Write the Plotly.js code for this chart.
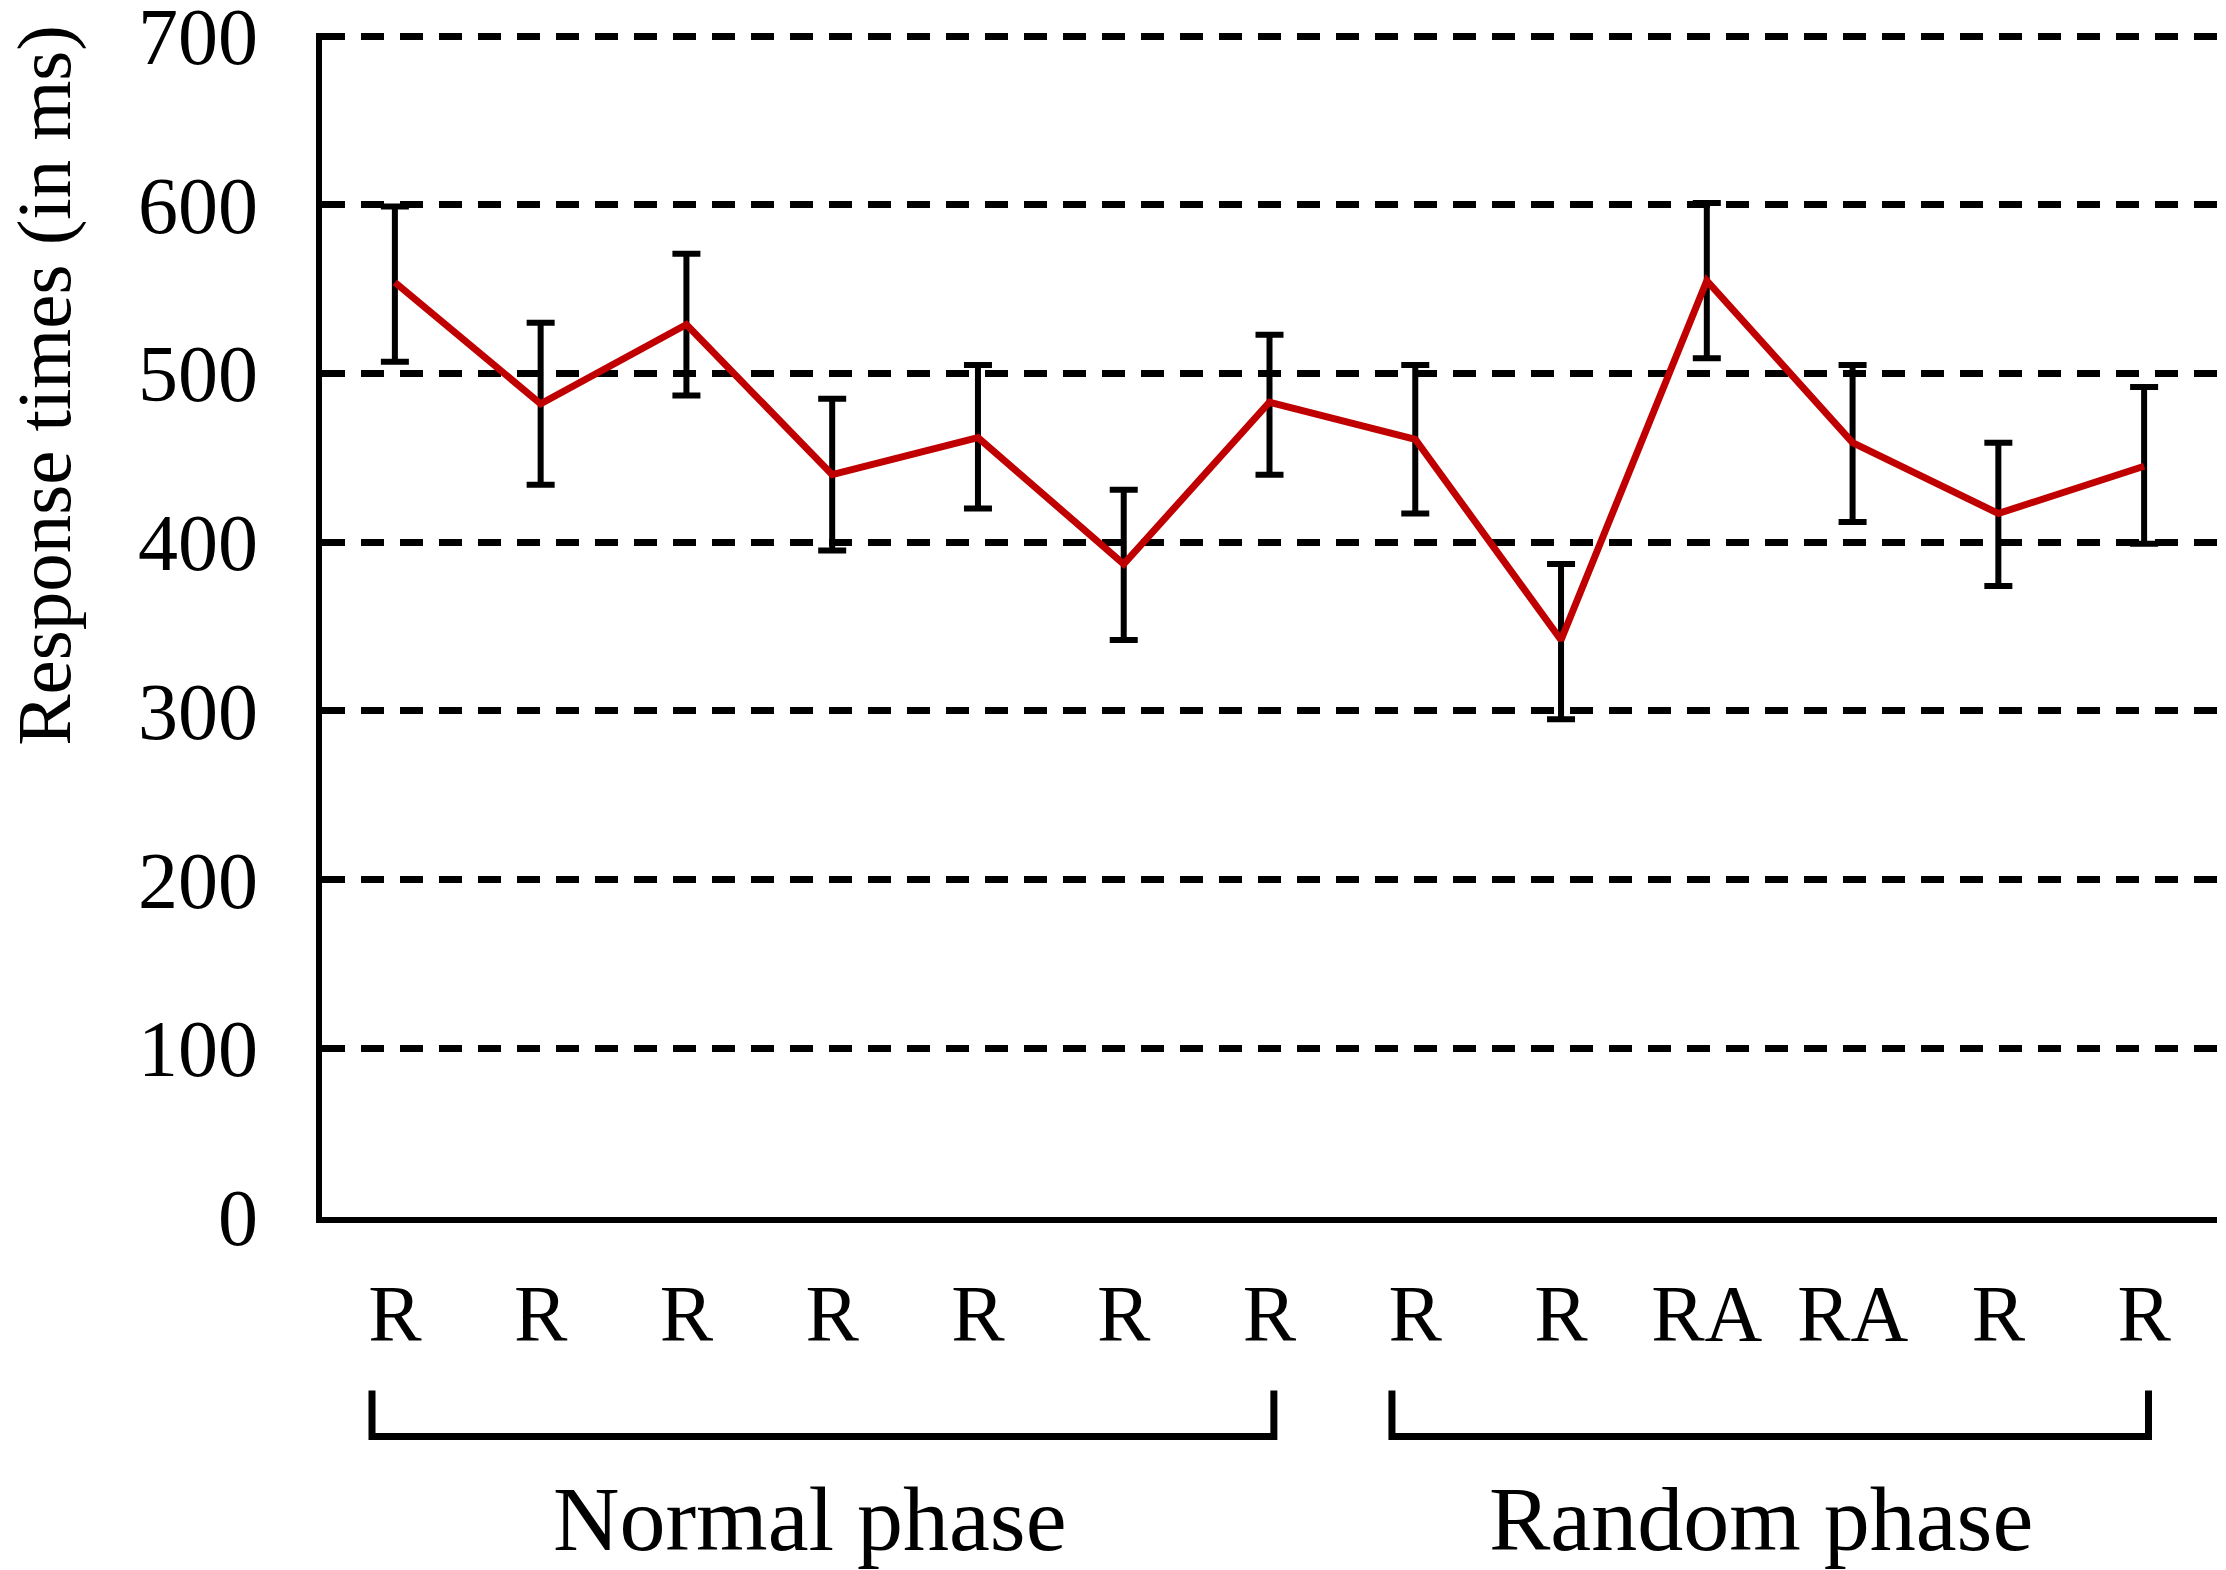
<!DOCTYPE html>
<html>
<head>
<meta charset="utf-8">
<script src="https://cdn.plot.ly/plotly-3.0.1.min.js"></script>
<style>html,body{margin:0;padding:0;background:#fff;}</style>
</head>
<body>
<div id="chart" style="width:2226px;height:1570px;"></div>
<script>
// ---- data ----
const trialLabels = ['R','R','R','R','R','R','R','R','R','RA','RA','R','R'];
const meanRT = [554, 482, 529, 440, 462, 387, 483, 461, 342, 555, 459, 417, 445];
const errUp = [45, 48, 42, 45, 43, 44, 40, 44, 45, 46, 46, 42, 47];
const errDown = [47, 48, 42, 45, 42, 45, 43, 44, 47, 46, 47, 43, 46];
const yTicks = [0, 100, 200, 300, 400, 500, 600, 700];
const phaseNames = ['Normal phase', 'Random phase'];
const yTitle = 'Response times (in ms)';

const xIdx = trialLabels.map((_, i) => i);
const serif = 'Liberation Serif, Times New Roman, serif';

const trace = {
  type: 'scatter',
  mode: 'lines',
  x: xIdx,
  y: meanRT,
  line: {color: '#c00000', width: 7},
  error_y: {
    type: 'data',
    symmetric: false,
    array: errUp,
    arrayminus: errDown,
    color: '#000',
    thickness: 6,
    width: 14
  },
  hoverinfo: 'skip'
};

function bracket(x0, x1) {
  const yt = -0.1465, yb = -0.1854;
  return {
    type: 'path', xref: 'x', yref: 'paper',
    path: `M ${x0} ${yt} L ${x0} ${yb} L ${x1} ${yb} L ${x1} ${yt}`,
    line: {color: '#000', width: 7}
  };
}

const layout = {
  width: 2226, height: 1570,
  margin: {l: 322, r: 9, t: 33, b: 353},
  paper_bgcolor: '#fff', plot_bgcolor: '#fff',
  showlegend: false,
  font: {family: serif, color: '#000'},
  xaxis: {
    range: [-0.5, 12.5],
    tickmode: 'array', tickvals: xIdx, ticktext: trialLabels,
    showline: true, linecolor: '#000', linewidth: 6,
    showgrid: false, zeroline: false, ticks: '',
    tickfont: {family: serif, size: 80, color: '#000'},
    ticklabelstandoff: 22,
    ticklabeloverflow: 'allow',
    fixedrange: true
  },
  yaxis: {
    range: [0, 701.8],
    tickmode: 'array', tickvals: yTicks, ticktext: yTicks.map(String),
    showline: true, linecolor: '#000', linewidth: 6,
    showgrid: true, gridcolor: '#000', gridwidth: 7, griddash: '23px,16px',
    zeroline: false, ticks: '',
    tickfont: {family: serif, size: 80, color: '#000'},
    ticklabelstandoff: 42,
    ticklabeloverflow: 'allow',
    fixedrange: true
  },
  shapes: [bracket(-0.157, 6.03), bracket(6.84, 12.03)],
  annotations: [
    {text: yTitle, xref: 'paper', yref: 'paper', x: -0.1467, y: 0.7020,
     xanchor: 'center', yanchor: 'middle', textangle: -90, showarrow: false,
     font: {family: serif, size: 77, color: '#000'}},
    {text: phaseNames[0], xref: 'x', yref: 'paper', x: 2.85, y: -0.2100,
     xanchor: 'center', yanchor: 'top', showarrow: false,
     font: {family: serif, size: 92, color: '#000'}},
    {text: phaseNames[1], xref: 'x', yref: 'paper', x: 9.37, y: -0.2100,
     xanchor: 'center', yanchor: 'top', showarrow: false,
     font: {family: serif, size: 92, color: '#000'}}
  ]
};

Plotly.newPlot('chart', [trace], layout, {staticPlot: true, displayModeBar: false});
</script>
</body>
</html>
